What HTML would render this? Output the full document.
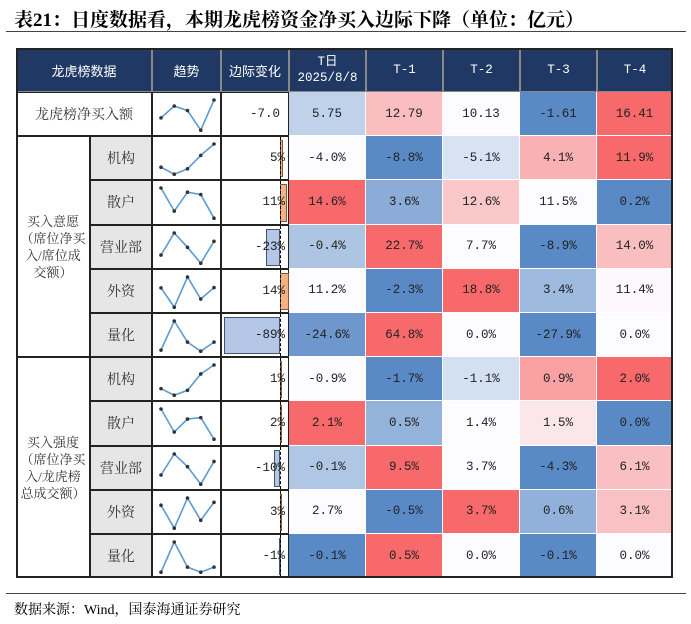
<!DOCTYPE html>
<html><head><meta charset="utf-8">
<style>
body{margin:0;width:691px;height:624px;background:#fff;position:relative;overflow:hidden;font-family:"Liberation Serif","Noto Serif CJK SC",serif;}
.a{position:absolute;box-sizing:border-box;display:flex;align-items:center;justify-content:center;text-align:center;}
.num{font-family:"Liberation Mono","Noto Sans CJK SC",monospace;font-size:12.5px;color:#222;}
.hd{background:#1f3864;color:#fff;font-family:"Liberation Sans","Noto Sans CJK SC",sans-serif;font-size:13px;border:1px solid #888;}
</style></head><body>
<div class="a" style="left:14px;top:4px;height:28px;justify-content:flex-start;font-size:19px;font-weight:bold;font-family:'Liberation Serif','Noto Serif CJK SC',serif;">表21：日度数据看，本期龙虎榜资金净买入边际下降（单位：亿元）</div>
<div style="position:absolute;left:6px;top:31px;width:680px;height:1px;background:#444"></div>
<div id="tbl"></div>
<div style="position:absolute;left:6px;top:593px;width:680px;height:1px;background:#444"></div>
<div class="a" style="left:14px;top:599px;height:20px;font-size:14px;font-family:'Liberation Serif','Noto Serif CJK SC',serif;">数据来源：Wind，国泰海通证券研究</div>
<script>
const periods=["T日<br>2025/8/8","T-1","T-2","T-3","T-4"];
const rowLabels=["龙虎榜净买入额","机构","散户","营业部","外资","量化","机构","散户","营业部","外资","量化"];
const groupLabels=["买入意愿<br>（席位净买<br>入/席位成<br>交额）","买入强度<br>（席位净买<br>入/龙虎榜<br>总成交额）"];
const netBuy=[5.75,12.79,10.13,-1.61,16.41];
const w_jg=[-4.0,-8.8,-5.1,4.1,11.9];
const w_sh=[14.6,3.6,12.6,11.5,0.2];
const w_yyb=[-0.4,22.7,7.7,-8.9,14.0];
const w_wz=[11.2,-2.3,18.8,3.4,11.4];
const w_lh=[-24.6,64.8,0.0,-27.9,0.0];
const s_jg=[-0.9,-1.7,-1.1,0.9,2.0];
const s_sh=[2.1,0.5,1.4,1.5,0.0];
const s_yyb=[-0.1,9.5,3.7,-4.3,6.1];
const s_wz=[2.7,-0.5,3.7,0.6,3.1];
const s_lh=[-0.1,0.5,0.0,-0.1,0.0];
const rows=[netBuy,w_jg,w_sh,w_yyb,w_wz,w_lh,s_jg,s_sh,s_yyb,s_wz,s_lh];

const X=[16,90,152,221,289,366,443,520,597,673];
const top0=48,hdH=44,rh=44.2;
const tbl=document.getElementById('tbl');
function box(x,y,w,h,cls,html,name,style){
  const d=document.createElement('div');
  d.className='a '+(cls||'');
  d.style.left=x+'px';d.style.top=y+'px';d.style.width=w+'px';d.style.height=h+'px';
  if(style)d.style.cssText+=style;
  d.innerHTML=html||'';
  
  
  tbl.appendChild(d);return d;
}
// header
box(X[0],top0,X[2]-X[0],hdH,'hd','龙虎榜数据','header-data');
box(X[2],top0,X[3]-X[2],hdH,'hd','趋势','header-trend');
box(X[3],top0,X[4]-X[3],hdH,'hd','边际变化','header-change');
for(let i=0;i<5;i++){
  const d=box(X[4+i],top0,X[5+i]-X[4+i],hdH,'hd','<span style="font-family:Liberation Mono,monospace;font-size:12.5px;line-height:16px">'+periods[i]+'</span>','header-period');
}
function lerp(a,b,t){return Math.round(a+(b-a)*t);}
function mix(c1,c2,t){return 'rgb('+lerp(c1[0],c2[0],t)+','+lerp(c1[1],c2[1],t)+','+lerp(c1[2],c2[2],t)+')';}
const RED=[248,105,107],BLUE=[90,138,198],WHITE=[252,252,255];
function colorFor(v,arr){
  const s=[...arr].sort((a,b)=>a-b);const mn=s[0],mx=s[4],md=s[2];
  if(v>=md){return mx===md?mix(WHITE,WHITE,0):mix(WHITE,RED,(v-md)/(mx-md));}
  return mix(WHITE,BLUE,(md-v)/(md-mn));
}
const tableTop=top0+hdH;
const zeroX=279,barScale=0.63;
rows.forEach((arr,r)=>{
  const y=tableTop+r*rh;
  const pct=r>0;
  if(r===0){box(X[0],y,X[2]-X[0],rh,'',' 龙虎榜净买入额','row-label',"font-family:'Liberation Serif','Noto Serif CJK SC',serif;font-size:14px;color:#333;border:1px solid #222;");}
  else{box(X[1],y,X[2]-X[1],rh,'',rowLabels[r],'row-label',"background:#e7e6e6;font-family:'Liberation Serif','Noto Serif CJK SC',serif;font-size:14px;color:#333;border:1px solid #222;");}
  // trend
  const tc=box(X[2],y,X[3]-X[2],rh,'','','trend-cell','border:1px solid #222;');
  const mn=Math.min(...arr),mx=Math.max(...arr);
  const pts=arr.map((v,i)=>[8+i*(53/4),rh-7-(mx===mn?0.5:(v-mn)/(mx-mn))*(rh-14)]);
  let svg='<svg width="'+(X[3]-X[2])+'" height="'+rh+'" style="position:absolute;left:0;top:0"><polyline fill="none" stroke="#5b9bd5" stroke-width="1.6" points="'+pts.map(p=>p.join(',')).join(' ')+'"/>';
  pts.forEach(p=>{svg+='<circle cx="'+p[0]+'" cy="'+p[1]+'" r="1.8" fill="#333"/>';});
  tc.innerHTML=svg+'</svg>';
  // change
  const ch=arr[0]-arr[1];
  const cc=box(X[3],y,X[4]-X[3],rh,'num','','change-cell','border:1px solid #222;justify-content:flex-end;padding-right:3px;');
  if(pct){
    const w=Math.abs(Math.round(ch))*barScale;
    const b=document.createElement('div');
    
    
    const bx=ch>=0?zeroX:zeroX-w;
    b.style.cssText='position:absolute;top:3px;height:'+(rh-7)+'px;left:'+(bx-X[3])+'px;width:'+w+'px;box-sizing:border-box;border:1px solid '+(ch>=0?'#7f5a3a':'#44546a')+';background:'+(ch>=0?'#f4b183':'#b4c7e7');
    cc.appendChild(b);
    const z=document.createElement('div');
    
    
    z.style.cssText='position:absolute;top:0;height:100%;left:'+(zeroX-X[3])+'px;border-left:1px dashed #000;';
    cc.appendChild(z);
    const t=document.createElement('span');t.style.position='relative';t.textContent=Math.round(ch)+'%';cc.appendChild(t);
  } else {cc.innerHTML='<span>'+ch.toFixed(1)+'</span>';cc.style.paddingRight='8px';}
  arr.forEach((v,i)=>{
    box(X[4+i],y,X[5+i]-X[4+i],rh,'num',pct?v.toFixed(1)+'%':v.toFixed(2),'value-cell','background:'+colorFor(v,arr)+';border-right:1px solid #fff;border-bottom:1px solid #fff;');
  });
});
// group labels
groupLabels.forEach((g,i)=>{
  box(X[0],tableTop+(1+i*5)*rh,X[1]-X[0],rh*5,'',g,'group-label',"font-family:'Liberation Serif','Noto Serif CJK SC',serif;font-size:13px;color:#333;line-height:17px;border:1px solid #222;");
});
box(X[0],top0,X[9]-X[0],hdH+11*rh,'','','table-border','border:2px solid #222;pointer-events:none;');
</script>
</body></html>
